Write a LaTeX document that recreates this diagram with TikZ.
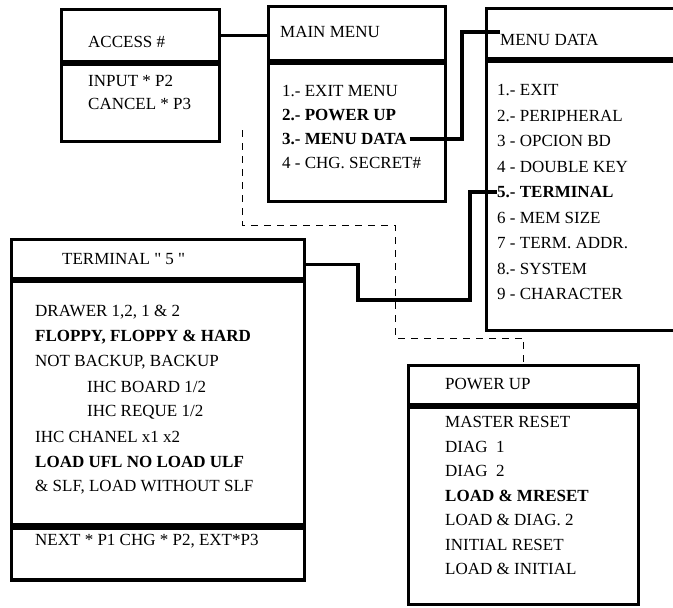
\documentclass[tikz,border=0pt]{standalone}
\usepackage{fontspec}
\setmainfont{Liberation Serif}
\usepackage{tikz}
\usetikzlibrary{positioning, calc}

\tikzset{
  panel/.style={draw, line width=3.2pt, anchor=north west, inner sep=0pt},
  entry/.style={anchor=west, inner sep=0pt, font=\fontsize{17}{20}\selectfont},
  link/.style={line width=3.2pt},
  guide/.style={line width=0.8pt, dash pattern=on 7pt off 6pt},
}

\begin{document}
\begin{tikzpicture}[x=1pt, y=-1pt]
\useasboundingbox (0,0) rectangle (673,608);

% Access box
\node[panel, minimum width=158pt, minimum height=52pt] (accHead) at (60,8) {};
\node[panel, minimum width=158pt, minimum height=77pt] (accBody) at (accHead.south west) {};
\node[entry] (accTitle) at (88,42) {ACCESS \#};
\foreach \t [count=\i] in {INPUT * P2, CANCEL * P3}
  \node[entry] (acc\i) at (88,58+23*\i) {\t};

% Main menu box
\node[panel, minimum width=177pt, minimum height=54pt] (mmHead) at (267,5) {};
\node[panel, minimum width=177pt, minimum height=138pt] (mmBody) at (mmHead.south west) {};
\node[entry] (mmTitle) at (280,32) {MAIN MENU};
\foreach \t [count=\i] in {1.- EXIT MENU, \textbf{2.- POWER UP}, \textbf{3.- MENU DATA}, 4 - CHG. SECRET\#}
  \node[entry] (mm\i) at (282,67+24*\i) {\t};

% Menu data box (runs off the right edge)
\node[panel, minimum width=220pt, minimum height=50pt] (mdHead) at (485,7) {};
\node[panel, minimum width=220pt, minimum height=269pt] (mdBody) at (mdHead.south west) {};
\node[entry] (mdTitle) at (500,40) {MENU DATA};
\foreach \t [count=\i] in {1.- EXIT, 2.- PERIPHERAL, 3 - OPCION BD, 4 - DOUBLE KEY,
    \textbf{5.- TERMINAL}, 6 - MEM SIZE, 7 - TERM. ADDR., 8.- SYSTEM, 9 - CHARACTER}
  \node[entry] (md\i) at (497,64.5+25.5*\i) {\t};

% Terminal box
\node[panel, minimum width=293pt, minimum height=39pt] (termHead) at (10,238) {};
\node[panel, minimum width=293pt, minimum height=243pt] (termBody) at (termHead.south west) {};
\node[panel, minimum width=293pt, minimum height=52pt] (termFoot) at (termBody.south west) {};
\node[entry] (termTitle) at (62,259) {TERMINAL \textquotedbl\ 5 \textquotedbl};
\foreach \x/\t [count=\i] in {35/{DRAWER 1,2, 1 \& 2}, 35/\textbf{FLOPPY, FLOPPY \& HARD},
    35/{NOT BACKUP, BACKUP}, 87/{IHC BOARD 1/2}, 87/{IHC REQUE 1/2}, 35/IHC CHANEL x1 x2,
    35/\textbf{LOAD UFL NO LOAD ULF}, 35/{\& SLF, LOAD WITHOUT SLF}}
  \node[entry] (term\i) at (\x,287+25*\i) {\t};
\node[entry] (termKeys) at (35,541) {NEXT * P1 CHG * P2, EXT*P3};

% Power up box
\node[panel, minimum width=230pt, minimum height=39pt] (pwHead) at (407,364) {};
\node[panel, minimum width=230pt, minimum height=197pt] (pwBody) at (pwHead.south west) {};
\node[entry] (pwTitle) at (445,384) {POWER UP};
\foreach \t [count=\i] in {MASTER RESET, DIAG\ \ 1, DIAG\ \ 2, \textbf{LOAD \& MRESET},
    LOAD \& DIAG. 2, INITIAL RESET, LOAD \& INITIAL}
  \node[entry] (pw\i) at (445,397.5+24.5*\i) {\t};

% Solid links
\draw[link] (accHead.east) -- (accHead.east -| mmHead.west);
\coordinate (bendC) at (462,32);
\draw[link] ([xshift=3pt]mm3.east) -| (bendC) -- (bendC -| mdTitle.west);
\coordinate (bendA) at (358,300);
\coordinate (bendB) at (470,300);
\draw[link] ([yshift=-5pt]termHead.east) -| (bendA) -- (bendB) |- (md5.west);

% Dashed link to power up
\coordinate (dashTop) at (242,130);
\coordinate (dashBend) at (395,225);
\draw[guide] (dashTop) |- (dashBend) -- ++(0,113) -| (pwHead.north);
\end{tikzpicture}
\end{document}
